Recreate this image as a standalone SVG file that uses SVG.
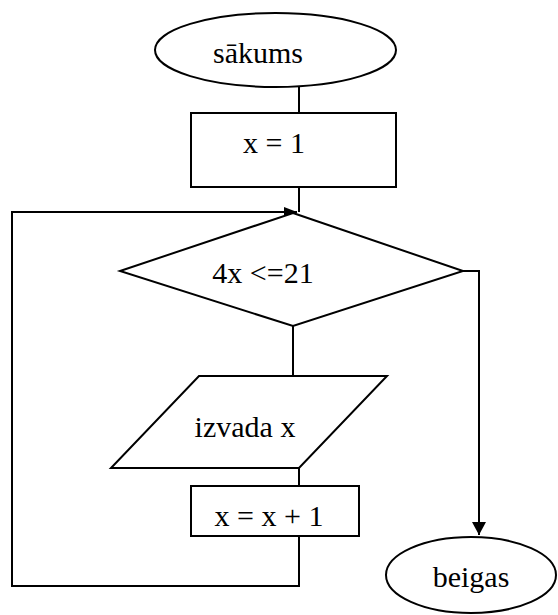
<svg xmlns="http://www.w3.org/2000/svg" width="558" height="615" viewBox="0 0 558 615">
<style>
.s{fill:#fff;stroke:#000;stroke-width:2}
.c{fill:none;stroke:#000;stroke-width:2}
text{font-family:'Liberation Serif','Times New Roman','DejaVu Serif',serif;font-size:30px;fill:#000;text-anchor:middle}
</style>
<defs>
<marker id="ah" markerWidth="14" markerHeight="14" refX="13" refY="7" orient="auto" markerUnits="userSpaceOnUse">
<path d="M0,0 L13,7 L0,14 Z" fill="#000"/>
</marker>
<marker id="ah2" markerWidth="14" markerHeight="10" refX="13" refY="5" orient="auto" markerUnits="userSpaceOnUse">
<path d="M0,0 L13,5 L0,10 Z" fill="#000"/>
</marker>
</defs>
<g id="connectors">
<line class="c" x1="299" y1="87" x2="299" y2="113"/>
<line class="c" x1="299" y1="187" x2="299" y2="212"/>
<polyline class="c" points="299,536 299,586 12,586 12,212 297,212" marker-end="url(#ah2)"/>
<line class="c" x1="293" y1="326" x2="293" y2="376"/>
<line class="c" x1="299" y1="468" x2="299" y2="486"/>
<polyline class="c" points="463,271 479,271 479,535" marker-end="url(#ah)"/>
</g>
<g id="start">
<ellipse class="s" cx="275.5" cy="50" rx="120.5" ry="37"/>
<text x="258" y="63" font-family="Liberation Serif, serif">sākums</text>
</g>
<g id="init">
<rect class="s" x="191" y="113" width="205" height="74"/>
<text x="274" y="153" font-family="Liberation Serif, serif">x = 1</text>
</g>
<g id="cond">
<polygon class="s" points="293,213 463,271 293,326 120,271"/>
<text x="263" y="283" font-family="Liberation Serif, serif">4x &lt;=21</text>
</g>
<g id="output">
<polygon class="s" points="199,376 387,376 299,468 111,468"/>
<text x="245" y="437" font-family="Liberation Serif, serif">izvada x</text>
</g>
<g id="inc">
<rect class="s" x="191" y="486" width="168" height="50"/>
<text x="269" y="526" font-family="Liberation Serif, serif">x = x + 1</text>
</g>
<g id="end">
<ellipse class="s" cx="471" cy="575" rx="85" ry="38"/>
<text x="471" y="587" font-family="Liberation Serif, serif">beigas</text>
</g>
</svg>
